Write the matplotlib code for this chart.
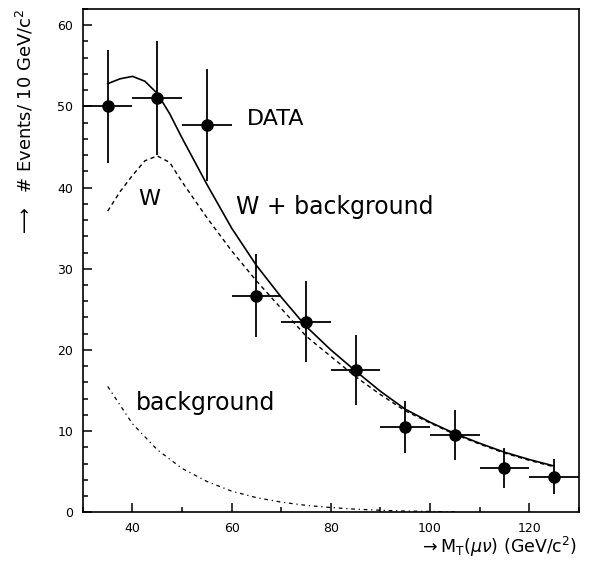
import matplotlib
matplotlib.use("Agg")
import matplotlib.pyplot as plt
from matplotlib.ticker import MultipleLocator

# measured points (transverse mass bins, 10 GeV wide)
mt_bins = [35, 45, 55, 65, 75, 85, 95, 105, 115, 125]
events = [50, 51, 47.7, 26.7, 23.5, 17.5, 10.5, 9.5, 5.5, 4.4]
events_err = [7.0, 7.0, 6.9, 5.1, 5.0, 4.3, 3.2, 3.1, 2.45, 2.15]
bin_halfwidth = [5] * len(mt_bins)

# W + background fit (solid)
total_x = [35, 37.5, 40, 42.5, 45, 47.5, 50, 55, 60, 65, 70, 75, 80, 85,
           90, 95, 100, 105, 110, 115, 120, 125]
total_y = [52.8, 53.4, 53.7, 53.1, 51.6, 49.1, 46.1, 40.4, 35.0, 30.4, 26.5,
           22.9, 20.0, 17.4, 14.9, 12.7, 11.1, 9.7, 8.5, 7.4, 6.5, 5.7]

# W contribution (dashed)
w_x = [35, 37.5, 40, 42.5, 45, 47.5, 50, 55, 60, 65, 70, 75, 80, 85,
       90, 95, 100, 105, 110, 115, 120, 125]
w_y = [37.1, 39.5, 41.5, 43.3, 43.9, 43.1, 40.7, 36.3, 32.2, 28.5, 25.1,
       21.7, 19.2, 16.7, 14.5, 12.5, 11.0, 9.6, 8.4, 7.3, 6.4, 5.6]

# background contribution (dash-dot)
bkg_x = [35, 40, 45, 50, 55, 60, 65, 70, 75, 80, 85, 90, 95, 100, 105]
bkg_y = [15.5, 10.9, 7.7, 5.4, 3.8, 2.6, 1.8, 1.25, 0.85, 0.58, 0.38,
         0.25, 0.15, 0.1, 0.05]

fig = plt.figure(figsize=(5.9, 5.62), dpi=100)
ax = fig.add_axes([0.1405, 0.0885, 0.8405, 0.8955])

ax.errorbar(mt_bins, events, xerr=bin_halfwidth, yerr=events_err,
            fmt='o', color='black', markersize=8, elinewidth=1.3,
            capsize=0, zorder=3)
ax.plot(total_x, total_y, color='black', lw=1.2)
ax.plot(w_x, w_y, color='black', lw=1.0, linestyle=(0, (3, 2.5)))
ax.plot(bkg_x, bkg_y, color='black', lw=0.9, linestyle=(0, (3, 3, 1, 3)))

txt = dict(color='black', va='baseline')
ax.text(63, 47.7, 'DATA', fontsize=16, **txt)
ax.text(41.2, 37.8, 'W', fontsize=16, **txt)
ax.text(60.8, 36.7, 'W + background', fontsize=17, **txt)
ax.text(40.6, 12.6, 'background', fontsize=17, **txt)

ax.set_xlim(30, 130)
ax.set_ylim(0, 62)
ax.xaxis.set_major_locator(MultipleLocator(20))
ax.xaxis.set_minor_locator(MultipleLocator(10))
ax.yaxis.set_major_locator(MultipleLocator(10))
ax.yaxis.set_minor_locator(MultipleLocator(2))
ax.tick_params(which='both', direction='in', top=False, right=False,
               width=1.1, labelsize=9)
ax.tick_params(which='major', length=6.5, pad=7)
ax.tick_params(which='minor', length=3.3)
for s in ax.spines.values():
    s.set_linewidth(1.2)

fig.text(0.978, 0.006, r'$\rightarrow$M$_\mathrm{T}$($\mu\nu$) (GeV/c$^2$)',
         ha='right', va='bottom', fontsize=12.5)
fig.text(0.043, 0.986, r'$\longrightarrow$  # Events/ 10 GeV/c$^2$',
         rotation=90, ha='center', va='top', fontsize=13)

fig.savefig('out.png', dpi=100)
